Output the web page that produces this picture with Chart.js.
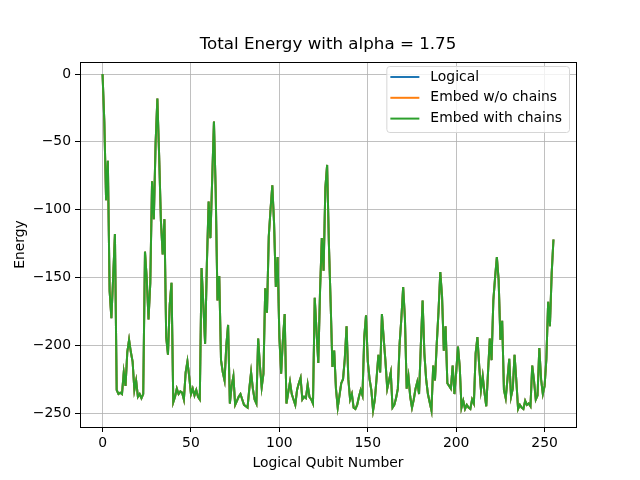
<!DOCTYPE html>
<html>
<head>
<meta charset="utf-8">
<script src="https://cdn.jsdelivr.net/npm/chart.js@4.4.1/dist/chart.umd.min.js"></script>
<style>
  html, body { margin: 0; padding: 0; background: #fff; }
  #wrap { width: 640px; height: 480px; }
</style>
</head>
<body>
<div id="wrap"><canvas id="energy-chart"></canvas></div>
<script>
// Datos (energía por qubit lógico 0..255)
var energy = [
    0, -35, -93, -64, -160, -180, -150, -118, -233, -236,
    -235, -236, -220, -230, -205, -196, -205, -212, -233, -226,
    -238, -236, -239, -236, -131, -151, -181, -154, -79, -107,
    -51, -18, -60, -108, -133, -107, -194, -207, -170, -154,
    -242, -238, -232, -236, -234, -235, -240, -220, -212, -223,
    -236, -232, -237, -233, -238, -240, -143, -170, -199, -140,
    -94, -121, -78, -35, -87, -167, -149, -211, -220, -226,
    -200, -185, -243, -230, -223, -244, -241, -238, -236, -240,
    -244, -245, -246, -232, -220, -232, -240, -243, -195, -215,
    -231, -221, -158, -176, -120, -100, -82, -110, -157, -135,
    -194, -221, -196, -177, -243, -235, -227, -236, -240, -244,
    -233, -228, -224, -240, -238, -239, -229, -238, -240, -243,
    -165, -189, -213, -160, -121, -145, -84, -67, -125, -169,
    -216, -204, -232, -246, -237, -228, -225, -210, -186, -225,
    -240, -236, -246, -247, -244, -238, -233, -237, -194, -178,
    -212, -225, -233, -248, -240, -224, -207, -220, -177, -195,
    -212, -232, -226, -220, -246, -244, -239, -232, -199, -180,
    -157, -180, -232, -223, -238, -246, -240, -232, -227, -236,
    -200, -167, -206, -225, -236, -242, -248, -215, -226, -199,
    -175, -146, -164, -204, -186, -228, -230, -232, -215, -236,
    -220, -201, -216, -246, -241, -247, -244, -246, -247, -240,
    -243, -206, -194, -215, -233, -223, -235, -245, -220, -195,
    -211, -167, -150, -135, -152, -196, -182, -233, -239, -225,
    -210, -238, -232, -207, -226, -247, -244, -246, -247, -241,
    -244, -243, -245, -215, -226, -240, -237, -202, -225, -236,
    -230, -210, -168, -186, -147, -122
];
var qubits = energy.map(function (v, i) { return i; });

var seriesNames = ['Logical', 'Embed w/o chains', 'Embed with chains'];
var seriesColors = ['#1f77b4', '#ff7f0e', '#2ca02c'];
// las tres series coinciden en la imagen
var seriesValues = [energy, energy, energy];

var xTicks = [0, 50, 100, 150, 200, 250];
var yTicks = [-250, -200, -150, -100, -50, 0];

var chartTitle = 'Total Energy with alpha = 1.75';
var FONT = 'DejaVu Sans';

// Marco completo alrededor del área del gráfico
var framePlugin = {
    id: 'frame',
    afterDatasetsDraw: function (chart) {
        var a = chart.chartArea, ctx = chart.ctx;
        ctx.save();
        ctx.strokeStyle = '#000';
        ctx.lineWidth = 1;
        ctx.strokeRect(Math.round(a.left) + 0.5, Math.round(a.top) + 0.5,
            Math.round(a.right - a.left), Math.round(a.bottom - a.top));
        ctx.restore();
    }
};

// Título centrado sobre el área de ejes (como matplotlib)
var titlePlugin = {
    id: 'axesTitle',
    afterDraw: function (chart) {
        var a = chart.chartArea, ctx = chart.ctx;
        ctx.save();
        ctx.font = '16.7px "' + FONT + '"';
        ctx.fillStyle = '#000';
        ctx.textAlign = 'center';
        ctx.textBaseline = 'alphabetic';
        ctx.fillText(chartTitle, (a.left + a.right) / 2, 49);
        ctx.restore();
    }
};

// Leyenda estilo matplotlib dentro del área (arriba a la derecha)
var legendPlugin = {
    id: 'boxLegend',
    afterDraw: function (chart) {
        var ctx = chart.ctx, a = chart.chartArea;
        var ds = chart.data.datasets;
        ctx.save();
        ctx.font = '13.9px "' + FONT + '"';
        var maxW = 0;
        ds.forEach(function (d) { maxW = Math.max(maxW, ctx.measureText(d.label).width); });
        var w = 44 + maxW + 7, h = 66;
        var x = a.right - 7 - w, y = a.top + 4;
        ctx.beginPath();
        ctx.roundRect(x + 0.5, y + 0.5, w, h, 3);
        ctx.fillStyle = 'rgba(255,255,255,0.8)';
        ctx.fill();
        ctx.strokeStyle = '#d6d6d6';
        ctx.lineWidth = 1;
        ctx.stroke();
        ds.forEach(function (d, i) {
            var cy = y + 11 + i * 20.8;
            ctx.strokeStyle = d.borderColor;
            ctx.lineWidth = 2;
            ctx.beginPath();
            ctx.moveTo(x + 4, cy);
            ctx.lineTo(x + 33, cy);
            ctx.stroke();
            ctx.fillStyle = '#000';
            ctx.textBaseline = 'middle';
            ctx.fillText(d.label, x + 44, cy);
        });
        ctx.restore();
    }
};

function minusSign(v) {
    return String(v).replace('-', '\u2212');
}

new Chart(document.getElementById('energy-chart').getContext('2d'), {
    type: 'line',
    data: {
        labels: qubits,
        datasets: seriesNames.map(function (name, i) {
            return {
                label: name,
                data: seriesValues[i].map(function (v, k) { return { x: qubits[k], y: v }; }),
                borderColor: seriesColors[i],
                backgroundColor: seriesColors[i],
                borderWidth: 2,
                pointRadius: 0,
                tension: 0,
                fill: false,
                // la última serie se dibuja encima
                order: seriesNames.length - i
            };
        })
    },
    options: {
        responsive: true,
        maintainAspectRatio: false,
        animation: false,
        layout: { padding: { left: 0, right: 64, top: 62, bottom: 0 } },
        scales: {
            x: {
                type: 'linear',
                min: -12.75,
                max: 267.75,
                afterBuildTicks: function (scale) {
                    scale.ticks = xTicks.map(function (v) { return { value: v }; });
                },
                afterFit: function (scale) { scale.height = 53; },
                grid: { color: '#b0b0b0', lineWidth: 0.8, tickColor: '#000', tickLength: 5, tickWidth: 1 },
                border: { color: '#000', width: 1 },
                ticks: { color: '#000', font: { family: FONT, size: 13.9 }, padding: 3, maxRotation: 0 },
                title: { display: true, text: 'Logical Qubit Number', color: '#000',
                    font: { family: FONT, size: 13.9 }, padding: { top: 0, bottom: 8 } }
            },
            y: {
                type: 'linear',
                min: -260.3,
                max: 8.9,
                afterBuildTicks: function (scale) {
                    scale.ticks = yTicks.map(function (v) { return { value: v }; });
                },
                afterFit: function (scale) { scale.width = 80; },
                grid: { color: '#b0b0b0', lineWidth: 0.8, tickColor: '#000', tickLength: 5, tickWidth: 1 },
                border: { color: '#000', width: 1 },
                ticks: { color: '#000', font: { family: FONT, size: 13.9 }, padding: 4,
                    callback: function (v) { return minusSign(v); } },
                title: { display: true, text: 'Energy', color: '#000',
                    font: { family: FONT, size: 13.9 }, padding: { top: 12, bottom: 0 } }
            }
        },
        plugins: {
            legend: { display: false },
            tooltip: { enabled: false },
            title: { display: false }
        }
    },
    plugins: [framePlugin, titlePlugin, legendPlugin]
});
</script>
</body>
</html>
